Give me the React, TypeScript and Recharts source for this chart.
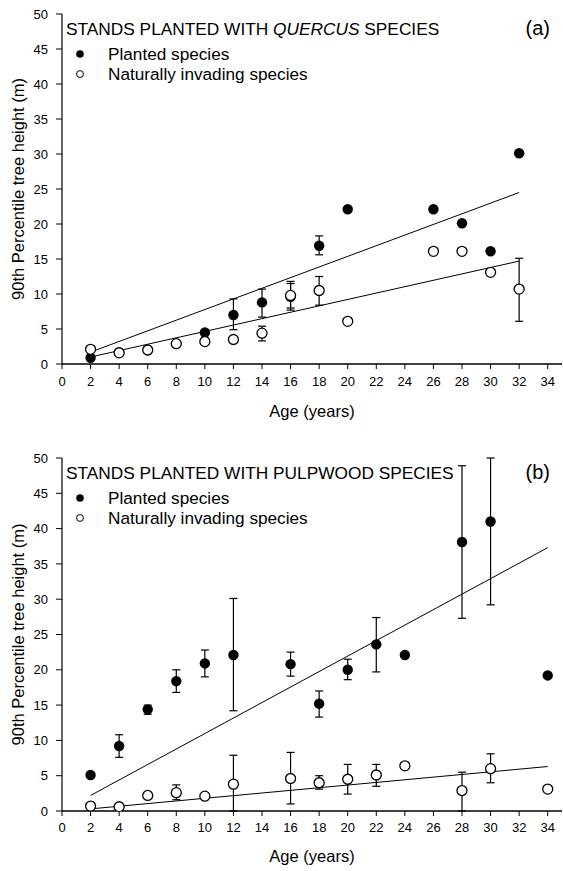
import React from "react";
import { ScatterChart, Scatter, XAxis, YAxis, ErrorBar, Legend } from "recharts";

const FONT = "'Liberation Sans', Arial, sans-serif";

const xTicks = [0, 2, 4, 6, 8, 10, 12, 14, 16, 18, 20, 22, 24, 26, 28, 30, 32, 34];
const yTicks = [0, 5, 10, 15, 20, 25, 30, 35, 40, 45, 50];

// panel (a) - Quercus stands
const agesPlantedA = [2, 4, 6, 10, 12, 14, 16, 18, 20, 26, 28, 30, 32];
const meanPlantedA = [0.9, 1.7, 2.0, 4.5, 7.0, 8.8, 9.6, 16.9, 22.1, 22.1, 20.1, 16.1, 30.1];
const lowPlantedA = [0.9, 1.7, 2.0, 4.5, 4.9, 6.7, 8.0, 15.6, 22.1, 22.1, 20.1, 16.1, 30.1];
const highPlantedA = [0.9, 1.7, 2.0, 4.5, 9.3, 10.7, 11.5, 18.3, 22.1, 22.1, 20.1, 16.1, 30.1];

const agesNaturalA = [2, 4, 6, 8, 10, 12, 14, 16, 18, 20, 26, 28, 30, 32];
const meanNaturalA = [2.1, 1.6, 2.0, 2.9, 3.2, 3.5, 4.4, 9.8, 10.5, 6.1, 16.1, 16.1, 13.1, 10.7];
const lowNaturalA = [2.1, 1.6, 2.0, 2.9, 3.2, 3.1, 3.3, 7.7, 8.4, 6.1, 16.1, 16.1, 13.1, 6.1];
const highNaturalA = [2.1, 1.6, 2.0, 2.9, 3.2, 3.9, 5.4, 11.8, 12.5, 6.1, 16.1, 16.1, 13.1, 15.1];

const fitAgesA = [2, 32];
const fitPlantedA = [1.7, 24.5];
const fitNaturalA = [1.0, 14.7];

// panel (b) - pulpwood stands
const agesPlantedB = [2, 4, 6, 8, 10, 12, 16, 18, 20, 22, 24, 28, 30, 34];
const meanPlantedB = [5.1, 9.2, 14.4, 18.4, 20.9, 22.1, 20.8, 15.2, 20.0, 23.6, 22.1, 38.1, 41.0, 19.2];
const lowPlantedB = [4.8, 7.6, 13.7, 16.8, 19.0, 14.2, 19.1, 13.3, 18.6, 19.7, 22.1, 27.3, 29.2, 19.2];
const highPlantedB = [5.3, 10.8, 15.0, 20.0, 22.8, 30.1, 22.5, 17.0, 21.5, 27.4, 22.1, 48.9, 50.0, 19.2];

const agesNaturalB = [2, 4, 6, 8, 10, 12, 16, 18, 20, 22, 24, 28, 30, 34];
const meanNaturalB = [0.7, 0.6, 2.2, 2.6, 2.1, 3.8, 4.6, 4.0, 4.5, 5.1, 6.4, 2.9, 6.0, 3.1];
const lowNaturalB = [0.4, 0.6, 2.2, 1.6, 2.1, 0, 1.0, 3.1, 2.4, 3.5, 6.4, 0, 4.0, 3.1];
const highNaturalB = [1.0, 0.6, 2.2, 3.7, 2.1, 7.9, 8.3, 5.0, 6.6, 6.6, 6.4, 5.5, 8.1, 3.1];

const fitAgesB = [2, 34];
const fitPlantedB = [2.2, 37.3];
const fitNaturalB = [0.3, 6.3];

const toPoints = (ages: number[], mean: number[], low: number[], high: number[]) =>
  ages.map((x, i) => ({ x, y: mean[i], err: [mean[i] - low[i], high[i] - mean[i]] }));

const toLine = (ages: number[], vals: number[]) => ages.map((x, i) => ({ x, y: vals[i] }));

const FilledDot = (p: any) => <circle cx={p.cx} cy={p.cy} r={5.2} fill="#000" />;
const OpenDot = (p: any) => (
  <circle cx={p.cx} cy={p.cy} r={5} fill="#fff" stroke="#000" strokeWidth={1.3} />
);
const NoDot = () => <g />;

const YTitle = (props: any) => {
  const vb = props.viewBox;
  const cx = 24;
  const cy = vb.y + vb.height / 2;
  return (
    <text x={cx} y={cy} transform={`rotate(-90 ${cx} ${cy})`} textAnchor="middle" fontSize={16.5} fontFamily={FONT} fill="#000">
      90th Percentile tree height (m)
    </text>
  );
};

const XTitle = (props: any) => {
  const vb = props.viewBox;
  return (
    <text x={vb.x + vb.width / 2} y={vb.y + props.dist} textAnchor="middle" fontSize={16.5} fontFamily={FONT} fill="#000">
      Age (years)
    </text>
  );
};

const LegendBox = ({ title, tag }: { title: React.ReactNode; tag: string }) => (
  <div style={{ position: "relative", width: 490, fontFamily: FONT, color: "#000" }}>
    <div style={{ fontSize: 17.3, lineHeight: "20px", whiteSpace: "nowrap" }}>{title}</div>
    <div style={{ position: "absolute", right: 6, top: -2, fontSize: 20 }}>{tag}</div>
    <div style={{ marginTop: 5, fontSize: 17.2, lineHeight: "20px" }}>
      <div style={{ display: "flex", alignItems: "center" }}>
        <svg width={42} height={20}>
          <circle cx={14} cy={10} r={3.8} fill="#000" />
        </svg>
        Planted species
      </div>
      <div style={{ display: "flex", alignItems: "center" }}>
        <svg width={42} height={20}>
          <circle cx={14} cy={10} r={3.4} fill="#fff" stroke="#000" strokeWidth={1} />
        </svg>
        Naturally invading species
      </div>
    </div>
  </div>
);

interface PanelProps {
  title: React.ReactNode;
  tag: string;
  planted: any[];
  natural: any[];
  fitPlanted: any[];
  fitNatural: any[];
  height: number;
  top: number;
  axisHeight: number;
  tickGap: number;
  titleDist: number;
}

function Panel(p: PanelProps) {
  const tickStyle = { fill: "#000", fontSize: 13, fontFamily: FONT };
  return (
    <ScatterChart width={563} height={p.height} margin={{ top: p.top, right: 1, bottom: 0, left: 0 }}>
      <XAxis
        dataKey="x"
        type="number"
        domain={[0, 35]}
        ticks={xTicks}
        interval={0}
        height={p.axisHeight}
        tickSize={5}
        tickMargin={p.tickGap}
        tick={tickStyle}
        axisLine={{ stroke: "#000", strokeWidth: 1.5 }}
        tickLine={{ stroke: "#000" }}
        label={<XTitle dist={p.titleDist} />}
      />
      <XAxis xAxisId="top" orientation="top" type="number" domain={[0, 35]} height={0} tick={false} tickLine={false} axisLine={{ stroke: "#000", strokeWidth: 1.5 }} />
      <YAxis
        dataKey="y"
        type="number"
        domain={[0, 50]}
        ticks={yTicks}
        interval={0}
        allowDataOverflow
        width={62}
        tickSize={6}
        tickMargin={8}
        tick={tickStyle}
        axisLine={{ stroke: "#000", strokeWidth: 1.2 }}
        tickLine={{ stroke: "#000" }}
        label={<YTitle />}
      />
      <YAxis yAxisId="right" orientation="right" type="number" domain={[0, 50]} width={0} tick={false} tickLine={false} axisLine={{ stroke: "#000", strokeWidth: 1.2 }} />
      <Legend
        layout="vertical"
        align="center"
        verticalAlign="middle"
        wrapperStyle={{ left: 66, top: p.top + 5, width: 490 }}
        content={() => <LegendBox title={p.title} tag={p.tag} />}
      />
      <Scatter data={p.fitPlanted} line={{ stroke: "#000", strokeWidth: 1 }} shape={NoDot} isAnimationActive={false} legendType="none" />
      <Scatter data={p.fitNatural} line={{ stroke: "#000", strokeWidth: 1 }} shape={NoDot} isAnimationActive={false} legendType="none" />
      <Scatter data={p.planted} shape={FilledDot} isAnimationActive={false}>
        <ErrorBar dataKey="err" direction="y" width={4} stroke="#000" strokeWidth={1.2} isAnimationActive={false} />
      </Scatter>
      <Scatter data={p.natural} shape={OpenDot} isAnimationActive={false}>
        <ErrorBar dataKey="err" direction="y" width={4} stroke="#000" strokeWidth={1.2} isAnimationActive={false} />
      </Scatter>
    </ScatterChart>
  );
}

export default function App() {
  return (
    <div style={{ position: "absolute", left: 0, top: 0, width: 563, height: 871, background: "#fff" }}>
      <Panel
        title={<span>STANDS PLANTED WITH <i>QUERCUS</i> SPECIES</span>}
        tag="(a)"
        planted={toPoints(agesPlantedA, meanPlantedA, lowPlantedA, highPlantedA)}
        natural={toPoints(agesNaturalA, meanNaturalA, lowNaturalA, highNaturalA)}
        fitPlanted={toLine(fitAgesA, fitPlantedA)}
        fitNatural={toLine(fitAgesA, fitNaturalA)}
        height={440}
        top={14}
        axisHeight={76}
        tickGap={8}
        titleDist={53}
      />
      <Panel
        title="STANDS PLANTED WITH PULPWOOD SPECIES"
        tag="(b)"
        planted={toPoints(agesPlantedB, meanPlantedB, lowPlantedB, highPlantedB)}
        natural={toPoints(agesNaturalB, meanNaturalB, lowNaturalB, highNaturalB)}
        fitPlanted={toLine(fitAgesB, fitPlantedB)}
        fitNatural={toLine(fitAgesB, fitNaturalB)}
        height={431}
        top={18}
        axisHeight={60}
        tickGap={7}
        titleDist={51}
      />
    </div>
  );
}
